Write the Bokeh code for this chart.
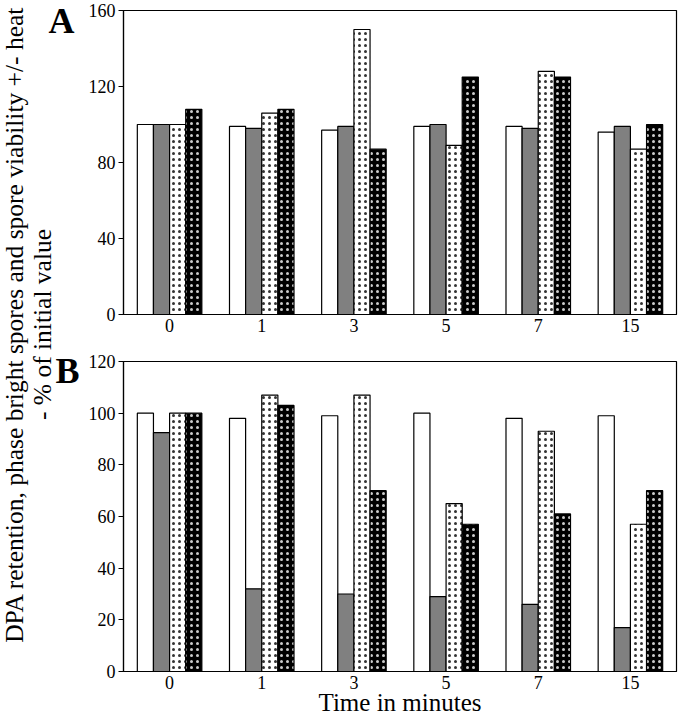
from math import pi
from bokeh.plotting import figure
from bokeh.models import ColumnDataSource, FactorRange, Range1d, Label, FixedTicker
from bokeh.transform import dodge
from bokeh.layouts import row, column
from bokeh.embed import file_html
from bokeh.resources import INLINE

FONT = "Liberation Serif"

times = ["0", "1", "3", "5", "7", "15"]

# Panel A values (% of initial value)
a_white = [100, 99, 97, 99, 99, 96]
a_gray = [100, 98, 99, 100, 98, 99]
a_dot = [100, 106, 150, 89, 128, 87]
a_black = [108, 108, 87, 125, 125, 100]

# Panel B values (% of initial value)
b_white = [100, 98, 99, 100, 98, 99]
b_gray = [92.5, 32, 30, 29, 26, 17]
b_dot = [100, 107, 107, 65, 93, 57]
b_black = [100, 103, 70, 57, 61, 70]

a_ticks = [0, 40, 80, 120, 160]
b_ticks = [0, 20, 40, 60, 80, 100, 120]

ylabel_1 = "DPA retention, phase bright spores and spore viability +/- heat"
ylabel_2 = "- % of initial value"
xlabel = "Time in minutes"

OFFS = [-0.2625, -0.0875, 0.0875, 0.2625]
BW = 0.175


def style_axes(p, ticks):
    p.xgrid.visible = False
    p.ygrid.visible = False
    p.outline_line_color = "black"
    p.outline_line_width = 1.2
    p.outline_line_alpha = 1
    p.background_fill_color = "white"
    p.border_fill_color = "white"
    for ax in (p.xaxis[0], p.yaxis[0]):
        ax.axis_line_color = "black"
        ax.axis_line_width = 1.2
        ax.major_label_text_font = FONT
        ax.major_label_text_font_size = "18px"
        ax.major_label_text_color = "black"
        ax.minor_tick_line_color = None
    p.xaxis.major_tick_line_color = None
    p.xaxis.major_tick_out = 0
    p.xaxis.major_tick_in = 0
    p.xaxis.major_label_standoff = 4
    p.yaxis.ticker = FixedTicker(ticks=ticks)
    p.yaxis.major_tick_out = 5
    p.yaxis.major_tick_in = 0
    p.yaxis.major_tick_line_color = "black"
    p.yaxis.major_label_standoff = 3


def add_bars(p, src):
    kw = dict(width=BW, line_color="black", line_width=1.2, source=src)
    p.vbar(x=dodge("t", OFFS[0], range=p.x_range), top="w", fill_color="white", **kw)
    p.vbar(x=dodge("t", OFFS[1], range=p.x_range), top="g", fill_color="#808080", **kw)
    p.vbar(x=dodge("t", OFFS[2], range=p.x_range), top="d", fill_color="white",
           hatch_pattern="dot", hatch_color="black", hatch_scale=6, hatch_weight=0.6,
           hatch_alpha=0.8, **kw)
    p.vbar(x=dodge("t", OFFS[3], range=p.x_range), top="k", fill_color="black",
           hatch_pattern="dot", hatch_color="white", hatch_scale=6, hatch_weight=0.6,
           hatch_alpha=0.8, **kw)


TOTAL_H = 718

# ---- left strip with the shared y label and panel letters ----
SW = 80
strip = figure(width=SW, height=TOTAL_H, x_range=Range1d(0, SW), y_range=Range1d(0, TOTAL_H),
               toolbar_location=None, output_backend="svg",
               min_border=0, x_axis_location=None, y_axis_location=None)
strip.xgrid.visible = False
strip.ygrid.visible = False
strip.outline_line_color = None
strip.add_layout(Label(x=14, y=394, text=ylabel_1, angle=pi / 2, text_align="center",
                       text_baseline="middle", text_font=FONT, text_font_size="25.5px",
                       text_color="black"))
strip.add_layout(Label(x=42, y=394, text=ylabel_2, angle=pi / 2, text_align="center",
                       text_baseline="middle", text_font=FONT, text_font_size="25.5px",
                       text_color="black"))
strip.add_layout(Label(x=48, y=698, text="A", text_align="left", text_baseline="middle",
                       text_font=FONT, text_font_size="36px", text_font_style="bold",
                       text_color="black"))
strip.add_layout(Label(x=55, y=348, text="B", text_align="left", text_baseline="middle",
                       text_font=FONT, text_font_size="36px", text_font_style="bold",
                       text_color="black"))

# ---- panel A ----
PW = 600
pa = figure(width=PW, height=340, x_range=FactorRange(*times, range_padding=0),
            y_range=Range1d(0, 160), toolbar_location=None, output_backend="svg",
            min_border_left=38, min_border_right=4, min_border_top=10, min_border_bottom=26)
style_axes(pa, a_ticks)
add_bars(pa, ColumnDataSource(dict(t=times, w=a_white, g=a_gray, d=a_dot, k=a_black)))

# ---- panel B ----
pb = figure(width=PW, height=TOTAL_H - 340, x_range=FactorRange(*times, range_padding=0),
            y_range=Range1d(0, 120), toolbar_location=None, output_backend="svg",
            min_border_left=43, min_border_right=4, min_border_top=21, min_border_bottom=47)
style_axes(pb, b_ticks)
add_bars(pb, ColumnDataSource(dict(t=times, w=b_white, g=b_gray, d=b_dot, k=b_black)))
pb.xaxis.axis_label = xlabel
pb.xaxis.axis_label_text_font = FONT
pb.xaxis.axis_label_text_font_size = "25px"
pb.xaxis.axis_label_text_font_style = "normal"
pb.xaxis.axis_label_text_color = "black"
pb.xaxis.axis_label_standoff = -3

layout = row(strip, column(pa, pb, spacing=0), spacing=0)

open("out.html", "w").write(file_html(layout, INLINE))
